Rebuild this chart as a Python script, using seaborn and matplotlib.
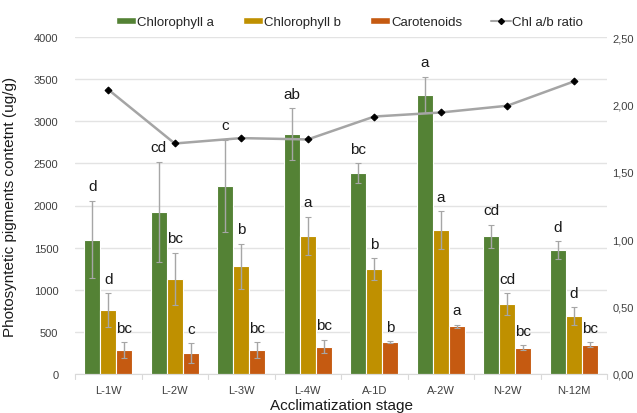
import numpy as np
import pandas as pd
import matplotlib
matplotlib.use("Agg")
import matplotlib.pyplot as plt
import seaborn as sns
from matplotlib.patches import Patch
from matplotlib.lines import Line2D

stages = ["L-1W", "L-2W", "L-3W", "L-4W", "A-1D", "A-2W", "N-2W", "N-12M"]
pigments = ["Chlorophyll a", "Chlorophyll b", "Carotenoids"]

chl_a = [1594, 1926, 2235, 2845, 2382, 3311, 1634, 1468]
chl_a_err = [460, 595, 545, 310, 120, 215, 135, 107]
chl_a_grp = ["d", "cd", "c", "ab", "bc", "a", "cd", "d"]

chl_b = [756, 1131, 1278, 1638, 1246, 1709, 827, 684]
chl_b_err = [200, 310, 270, 225, 125, 220, 130, 107]
chl_b_grp = ["d", "bc", "b", "a", "b", "a", "cd", "d"]

carot = [285, 245, 285, 324, 376, 566, 312, 348]
carot_err = [90, 120, 90, 80, 12, 15, 30, 30]
carot_grp = ["bc", "c", "bc", "bc", "b", "a", "bc", "bc"]

ratio_ab = [2.11, 1.71, 1.75, 1.74, 1.91, 1.94, 1.99, 2.17]

colors = ["#548235", "#BF9000", "#C55A11"]

df = pd.DataFrame({
    "stage": stages * 3,
    "pigment": [p for p in pigments for _ in stages],
    "value": chl_a + chl_b + carot,
})
errs = [chl_a_err, chl_b_err, carot_err]
vals = [chl_a, chl_b, carot]
groups = [chl_a_grp, chl_b_grp, carot_grp]

sns.set_style("white")
plt.rcParams["font.family"] = ["Liberation Sans", "DejaVu Sans"]

fig = plt.figure(figsize=(6.37, 4.14), dpi=100)
ax = fig.add_axes([75 / 637, 39 / 414, 532 / 637, 337 / 414])

sns.barplot(data=df, x="stage", y="value", hue="pigment", order=stages,
            hue_order=pigments, palette=colors, width=0.72, errorbar=None,
            edgecolor="white", linewidth=0.8, saturation=1, ax=ax, legend=False)

# error bars and significance letters on top of each bar
bar_sets = list(ax.containers)
for k, cont in enumerate(bar_sets):
    for i, bar in enumerate(cont):
        xc = bar.get_x() + bar.get_width() / 2
        ax.errorbar(xc, vals[k][i], yerr=errs[k][i], color="#A6A6A6",
                    elinewidth=1, capsize=2, capthick=0.8, zorder=3)
        ax.text(xc, vals[k][i] + errs[k][i] + 90, groups[k][i],
                ha="center", va="bottom", fontsize=11, color="#1a1a1a")

ax.set_ylim(0, 4000)
ax.set_xlim(-0.5, len(stages) - 0.5)
ax.set_yticks(np.arange(0, 4001, 500))
ax.yaxis.grid(True, color="#E3E3E3", linewidth=1)
ax.set_axisbelow(True)
for s in ["top", "right", "left"]:
    ax.spines[s].set_visible(False)
ax.spines["bottom"].set_color("#D9D9D9")
ax.tick_params(axis="y", length=0, labelsize=8, colors="#404040", pad=12)
ax.tick_params(axis="x", length=0, labelsize=8, colors="#404040", pad=8)
for b in np.arange(-0.5, len(stages), 1.0):
    ax.plot([b, b], [0, -60], color="#D9D9D9", lw=0.8, clip_on=False)
ax.set_xlabel("Acclimatization stage", fontsize=11, color="#1a1a1a")
ax.xaxis.set_label_coords(0.5, -31 / 337, transform=ax.transAxes)
ax.xaxis.label.set_verticalalignment("center")
ax.set_ylabel("Photosyntetic pigments contetnt (ug/g)", fontsize=11,
              color="#1a1a1a", labelpad=12)

# Chl a/b ratio on the secondary axis
ax2 = ax.twinx()
sns.lineplot(x=np.arange(len(stages)), y=ratio_ab, ax=ax2, color="#A5A5A5",
             lw=1.8, marker="D", markersize=3.5, markerfacecolor="black",
             markeredgecolor="black", zorder=5)
ax2.set_ylim(0, 2.5)
ax2.set_yticks(np.arange(0, 2.51, 0.5))
ax2.set_yticklabels([f"{v:.2f}".replace(".", ",") for v in np.arange(0, 2.51, 0.5)])
ax2.tick_params(axis="y", length=0, labelsize=8, colors="#404040", pad=4)
for s in ax2.spines.values():
    s.set_visible(False)
ax2.set_ylabel("")

handles = [Patch(facecolor=c, label=p) for c, p in zip(colors, pigments)]
handles.append(Line2D([0], [0], color="#A5A5A5", lw=1.5, marker="D",
                      markersize=3, markerfacecolor="black",
                      markeredgecolor="black", label="Chl a/b ratio"))
fig.legend(handles=handles, loc="center", bbox_to_anchor=(0.549, 0.944),
           ncol=4, frameon=False, fontsize=9.5, handlelength=1.5,
           handleheight=0.5, handletextpad=0.1, columnspacing=2.2)

fig.savefig("out.png", dpi=100)
